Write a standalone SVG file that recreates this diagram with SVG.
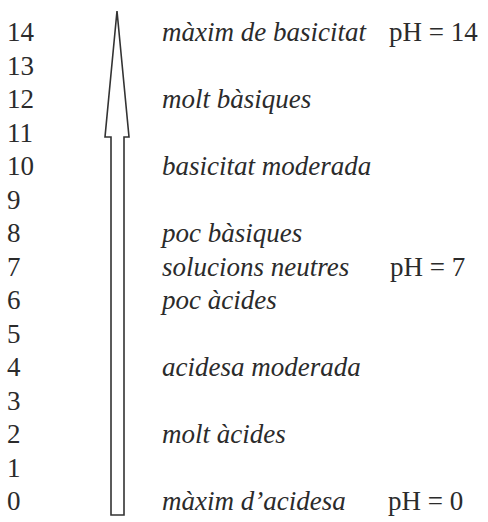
<svg xmlns="http://www.w3.org/2000/svg" width="488" height="522" viewBox="0 0 488 522">
<style>
.n{font-family:"Liberation Serif","Times New Roman",serif;font-size:27px;fill:#2b2b2b}
.i{font-family:"Liberation Serif","Times New Roman",serif;font-size:27px;font-style:italic;fill:#2b2b2b}
.ar{fill:#fff;stroke:#333;stroke-width:1.6;stroke-linejoin:miter}
</style>
<rect width="488" height="522" fill="#fff"/>
<g id="connectors">
<path class="ar" d="M117,11 L129,137 L124,137 L124,515 L111,515 L111,137 L105,137 Z"/>
</g>
<g id="scale">
<text class="n" x="7" y="41">14</text>
<text class="n" x="7" y="74.5">13</text>
<text class="n" x="7" y="108">12</text>
<text class="n" x="7" y="141.5">11</text>
<text class="n" x="7" y="175">10</text>
<text class="n" x="7" y="208.5">9</text>
<text class="n" x="7" y="242">8</text>
<text class="n" x="7" y="275.5">7</text>
<text class="n" x="7" y="309">6</text>
<text class="n" x="7" y="342.5">5</text>
<text class="n" x="7" y="376">4</text>
<text class="n" x="7" y="409.5">3</text>
<text class="n" x="7" y="443">2</text>
<text class="n" x="7" y="476.5">1</text>
<text class="n" x="7" y="510">0</text>
</g>
<g id="labels">
<text class="i" x="162" y="41">màxim de basicitat</text>
<text class="i" x="162" y="108">molt bàsiques</text>
<text class="i" x="162" y="175">basicitat moderada</text>
<text class="i" x="162" y="242">poc bàsiques</text>
<text class="i" x="162" y="275.5">solucions neutres</text>
<text class="i" x="162" y="309">poc àcides</text>
<text class="i" x="162" y="376">acidesa moderada</text>
<text class="i" x="162" y="443">molt àcides</text>
<text class="i" x="162" y="510">màxim d’acidesa</text>
</g>
<g id="ph">
<text class="n" x="389" y="41">pH = 14</text>
<text class="n" x="390" y="275.5">pH = 7</text>
<text class="n" x="388" y="510">pH = 0</text>
</g>
</svg>
